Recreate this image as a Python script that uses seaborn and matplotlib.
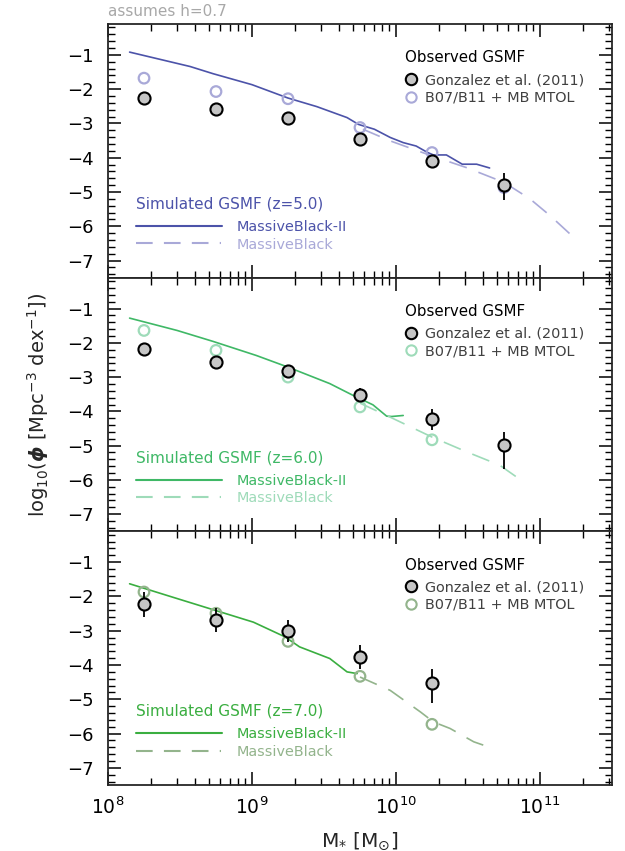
import numpy as np
import pandas as pd
import matplotlib
matplotlib.use("Agg")
import matplotlib.pyplot as plt
import seaborn as sns
from matplotlib.lines import Line2D
from matplotlib.ticker import MultipleLocator, LogLocator, NullFormatter

# ---------------- data ----------------
redshift_labels = ["5.0", "6.0", "7.0"]

# Gonzalez et al. (2011) observed GSMF (log10 M*, log10 phi, err low, err high)
gon_logm = [
    [8.25, 8.75, 9.25, 9.75, 10.25, 10.75],
    [8.25, 8.75, 9.25, 9.75, 10.25, 10.75],
    [8.25, 8.75, 9.25, 9.75, 10.25],
]
gon_phi = [
    [-2.27, -2.59, -2.84, -3.46, -4.10, -4.79],
    [-2.17, -2.56, -2.81, -3.53, -4.23, -4.97],
    [-2.23, -2.70, -3.01, -3.78, -4.52],
]
gon_err_lo = [
    [0.10, 0.15, 0.10, 0.15, 0.20, 0.44],
    [0.15, 0.15, 0.15, 0.20, 0.30, 0.70],
    [0.36, 0.35, 0.33, 0.35, 0.60],
]
gon_err_hi = [
    [0.10, 0.15, 0.10, 0.15, 0.18, 0.33],
    [0.15, 0.15, 0.15, 0.20, 0.30, 0.37],
    [0.36, 0.35, 0.33, 0.35, 0.39],
]

# B07/B11 + MB MTOL
mtol_logm = [
    [8.25, 8.75, 9.25, 9.75, 10.25, 10.75],
    [8.25, 8.75, 9.25, 9.75, 10.25],
    [8.25, 8.75, 9.25, 9.75, 10.25],
]
mtol_phi = [
    [-1.68, -2.07, -2.28, -3.12, -3.85, -4.87],
    [-1.64, -2.22, -3.00, -3.87, -4.83],
    [-1.87, -2.49, -3.31, -4.33, -5.73],
]

# Simulated GSMF: MassiveBlack-II (solid)
mb2_logm = [
    [8.15, 8.57, 8.73, 9.00, 9.25, 9.45, 9.66, 9.74, 9.85, 9.96, 10.05, 10.14,
     10.22, 10.26, 10.35, 10.46, 10.56, 10.65],
    [8.15, 8.48, 8.73, 9.03, 9.25, 9.54, 9.70, 9.84, 9.935, 9.97, 10.05],
    [8.15, 8.41, 8.71, 9.01, 9.23, 9.33, 9.54, 9.66, 9.73],
]
mb2_phi = [
    [-0.92, -1.34, -1.55, -1.87, -2.26, -2.51, -2.83, -3.03, -3.17, -3.41, -3.56,
     -3.66, -3.85, -3.92, -3.92, -4.19, -4.19, -4.30],
    [-1.28, -1.64, -1.96, -2.37, -2.71, -3.19, -3.53, -3.81, -4.14, -4.15, -4.12],
    [-1.63, -1.97, -2.36, -2.75, -3.18, -3.47, -3.81, -4.20, -4.25],
]

# Simulated GSMF: MassiveBlack (dashed)
mb_logm = [
    [9.77, 9.96, 10.25, 10.49, 10.75, 10.93, 11.07, 11.22],
    [9.75, 9.96, 10.25, 10.49, 10.72, 10.90],
    [9.75, 9.96, 10.17, 10.26, 10.375, 10.54, 10.65],
]
mb_phi = [
    [-3.17, -3.51, -3.95, -4.29, -4.72, -5.20, -5.69, -6.27],
    [-3.76, -4.17, -4.75, -5.18, -5.57, -6.10],
    [-4.35, -4.74, -5.37, -5.66, -5.85, -6.24, -6.40],
]

yticks_vals = [-1, -2, -3, -4, -5, -6, -7]

# ---------------- style ----------------
solid_colors = ["#4c53a9", "#3fb866", "#3aae40"]
dash_colors = ["#a9a9d8", "#9edbb9", "#93b48c"]
text_gray = "#404040"

sns.set_style("ticks")
plt.rcParams["font.family"] = ["DejaVu Sans"]
plt.rcParams["axes.linewidth"] = 1.3

fig = plt.figure(figsize=(6.25, 8.51), dpi=100)
gs = fig.add_gridspec(3, 1, left=108 / 625, right=612 / 625,
                      top=1 - 24 / 851, bottom=1 - 785 / 851, hspace=0)
axes = [fig.add_subplot(gs[i]) for i in range(3)]

dash_style = (0, (11, 7.5))
legend_dash = (0, (8.0, 5.4, 8.0, 5.4, 8.0, 5.4, 0.6, 100))

for i, ax in enumerate(axes):
    sc, dc = solid_colors[i], dash_colors[i]
    # simulated lines
    df2 = pd.DataFrame({"m": 10 ** np.array(mb2_logm[i]), "phi": mb2_phi[i]})
    sns.lineplot(data=df2, x="m", y="phi", ax=ax, color=sc, lw=1.2,
                 estimator=None, sort=False, zorder=2)
    df1 = pd.DataFrame({"m": 10 ** np.array(mb_logm[i]), "phi": mb_phi[i]})
    sns.lineplot(data=df1, x="m", y="phi", ax=ax, color=dc, lw=1.2,
                 estimator=None, sort=False, zorder=2, linestyle=dash_style)
    # MTOL open circles
    dfm = pd.DataFrame({"m": 10 ** np.array(mtol_logm[i]), "phi": mtol_phi[i]})
    sns.scatterplot(data=dfm, x="m", y="phi", ax=ax, s=58, facecolor="none",
                    edgecolor=dc, linewidth=1.6, zorder=3)
    # Gonzalez points
    gx = 10 ** np.array(gon_logm[i])
    ax.errorbar(gx, gon_phi[i], yerr=[gon_err_lo[i], gon_err_hi[i]], fmt="none",
                ecolor="black", elinewidth=1.3, capsize=0, zorder=4)
    dfg = pd.DataFrame({"m": gx, "phi": gon_phi[i]})
    sns.scatterplot(data=dfg, x="m", y="phi", ax=ax, s=76, color="#c6c6c6",
                    edgecolor="black", linewidth=1.5, zorder=5)

    ax.set_xscale("log")
    ax.set_xlim(1e8, 10 ** 11.5)
    ax.set_ylim(-7.5, -0.1)
    ax.set_yticks(yticks_vals)
    ax.yaxis.set_minor_locator(MultipleLocator(0.2))
    ax.xaxis.set_major_locator(LogLocator(base=10))
    ax.xaxis.set_minor_locator(LogLocator(base=10, subs=np.arange(2, 10)))
    ax.xaxis.set_minor_formatter(NullFormatter())
    ax.tick_params(which="both", direction="in", top=True, right=True,
                   colors="black", labelsize=13)
    ax.tick_params(axis="y", which="major", length=9.5, width=1.1, pad=10)
    ax.tick_params(axis="y", which="minor", length=5, width=1.0)
    ax.tick_params(axis="x", which="major", length=9.5, width=1.1, pad=8,
                   labelsize=13.5)
    ax.tick_params(axis="x", which="minor", length=5, width=1.0)
    ax.set_xlabel("")
    ax.set_ylabel("")
    if i < 2:
        ax.tick_params(axis="x", which="both", labelbottom=False)
    for sp in ax.spines.values():
        sp.set_visible(True)
        sp.set_linewidth(1.3)

    # observed legend
    h_obs = [
        Line2D([], [], ls="none", marker="o", ms=8.2, mfc="#c6c6c6", mec="black", mew=1.5),
        Line2D([], [], ls="none", marker="o", ms=7.4, mfc="none", mec=dc, mew=1.5),
    ]
    leg1 = ax.legend(h_obs, ["Gonzalez et al. (2011)", "B07/B11 + MB MTOL"],
                     title="Observed GSMF", loc="upper left",
                     bbox_to_anchor=(0.589, 0.896), frameon=False, fontsize=10.4,
                     title_fontsize=10.8, handlelength=0.9, handletextpad=0.5,
                     labelspacing=0.25, borderpad=0, borderaxespad=0,
                     alignment="left", labelcolor=[text_gray, text_gray])
    leg1.get_title().set_color("black")
    leg1._legend_box.sep = 5.5
    ax.add_artist(leg1)

    # simulated legend
    h_sim = [
        Line2D([], [], color=sc, lw=1.5),
        Line2D([], [], color=dc, lw=1.5, linestyle=legend_dash),
    ]
    leg2 = ax.legend(h_sim, ["MassiveBlack-II", "MassiveBlack"],
                     title=f"Simulated GSMF (z={redshift_labels[i]})", loc="lower left",
                     bbox_to_anchor=(0.055, 0.103), frameon=False, fontsize=10.4,
                     title_fontsize=11, handlelength=6.0, handletextpad=1.0,
                     labelspacing=0.25, borderpad=0, borderaxespad=0,
                     alignment="left", labelcolor=[sc, dc])
    leg2.get_title().set_color(sc)
    leg2._legend_box.sep = 6.0

axes[1].set_ylabel(r"log$_{10}$($\boldsymbol{\phi}$ [Mpc$^{-3}$ dex$^{-1}$])",
                   fontsize=14, labelpad=12)
axes[2].set_xlabel(r"M$_{*}$ [M$_{\odot}$]", fontsize=14.5, labelpad=9)

fig.text(108 / 625, 1 - 12 / 851, "assumes h=0.7", color="#a8a8a8", fontsize=11,
         ha="left", va="center")

fig.savefig("out.png", dpi=100)
